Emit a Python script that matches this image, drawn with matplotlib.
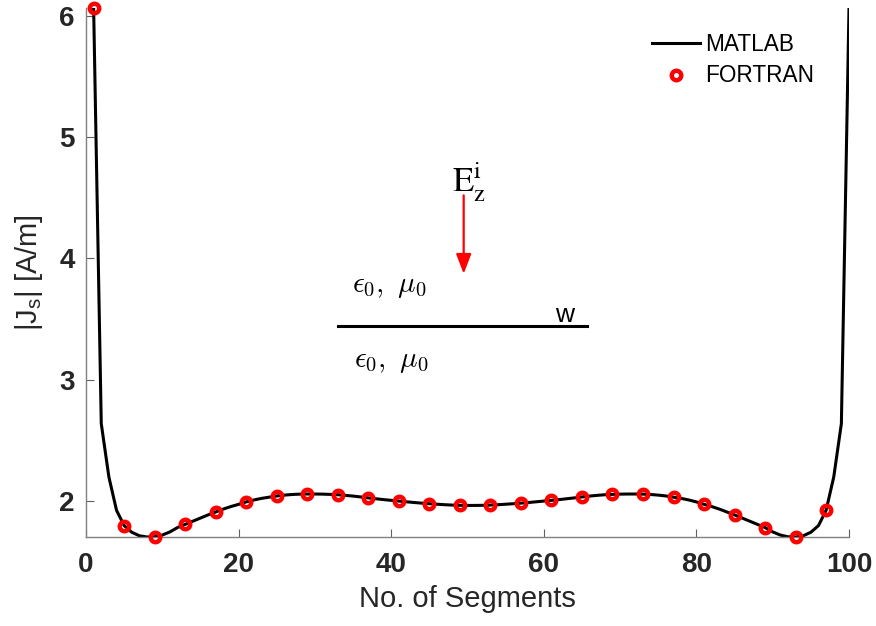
import matplotlib
matplotlib.use("Agg")
import matplotlib.pyplot as plt

plt.rcParams['font.family'] = ['Liberation Sans', 'DejaVu Sans']
plt.rcParams['mathtext.fontset'] = 'custom'
plt.rcParams['mathtext.rm'] = 'Liberation Sans'
plt.rcParams['mathtext.sf'] = 'Liberation Sans'
plt.rcParams['mathtext.it'] = 'Liberation Sans:italic'

# ---- data ----
segments = list(range(1, 101))
matlab_js = [
    6.063, 2.640, 2.200, 1.926, 1.800, 1.745, 1.716, 1.706, 1.708, 1.722,
    1.748, 1.784, 1.810, 1.836, 1.862, 1.888, 1.912, 1.936, 1.957, 1.975,
    1.995, 2.011, 2.024, 2.034, 2.044, 2.051, 2.056, 2.059, 2.060, 2.060,
    2.059, 2.057, 2.054, 2.049, 2.043, 2.036, 2.028, 2.021, 2.014, 2.008,
    2.002, 1.996, 1.990, 1.985, 1.980, 1.976, 1.972, 1.969, 1.967, 1.966,
    1.966, 1.967, 1.969, 1.972, 1.976, 1.980, 1.985, 1.990, 1.996, 2.002,
    2.008, 2.014, 2.021, 2.028, 2.036, 2.043, 2.049, 2.054, 2.057, 2.059,
    2.060, 2.060, 2.059, 2.056, 2.051, 2.044, 2.034, 2.024, 2.011, 1.995,
    1.975, 1.957, 1.936, 1.912, 1.888, 1.862, 1.836, 1.810, 1.784, 1.748,
    1.722, 1.708, 1.706, 1.716, 1.745, 1.800, 1.926, 2.200, 2.640, 6.063,
]
fortran_segments = list(range(1, 98, 4))
fortran_js = [
    6.063, 1.800, 1.708, 1.810, 1.912, 1.995, 2.044, 2.060, 2.054, 2.028,
    2.002, 1.980, 1.967, 1.969, 1.985, 2.008, 2.036, 2.057, 2.059, 2.034,
    1.975, 1.888, 1.784, 1.706, 1.926,
]
xticks = [0, 20, 40, 60, 80, 100]
yticks = [2, 3, 4, 5, 6]

W, H = 876, 626
fig = plt.figure(figsize=(W / 100, H / 100), dpi=100)
ax = fig.add_axes([86 / W, 1 - 537 / H, (849 - 86) / W, (537 - 8) / H])

ax.plot(segments, matlab_js, color='black', lw=2.2, label='MATLAB', zorder=2)
ax.plot(fortran_segments, fortran_js, linestyle='none', marker='o', ms=6.8,
        mfc='none', mec='red', mew=3.2, label='FORTRAN', zorder=3, clip_on=False)

ax.set_xlim(0, 100)
ax.set_ylim(min(matlab_js), max(matlab_js))
ax.set_xticks(xticks)
ax.set_yticks(yticks)

for s in ['top', 'right']:
    ax.spines[s].set_visible(False)
for s in ['left', 'bottom']:
    ax.spines[s].set_color('#808080')
    ax.spines[s].set_linewidth(1.0)

ax.tick_params(direction='in', length=6, width=0.8, color='#606060',
               labelsize=20, labelcolor='#262626')
ax.tick_params(axis='x', pad=11)
ax.tick_params(axis='y', pad=8)
for lbl in ax.get_xticklabels() + ax.get_yticklabels():
    lbl.set_fontweight('bold')

ax.set_xlabel('No. of Segments', fontsize=21, color='#262626', labelpad=5)
ax.set_ylabel(r'|J$_{\mathsf{s}}$| [A/m]', fontsize=21, color='#262626', labelpad=10)

leg = ax.legend(loc='upper left', bbox_to_anchor=(0.742, 0.953), frameon=False,
                fontsize=16.3, handlelength=2.1, handletextpad=0.25,
                labelspacing=0.38, borderpad=0, borderaxespad=0)

# ---- inset sketch annotations ----
ax.plot([33.05, 65.7], [3.44, 3.44], color='black', lw=2.2, clip_on=False)
ax.text(62.7, 3.475, 'w', fontsize=19, ha='center', va='baseline')
ax.text(34.9, 3.72, r'$\epsilon_{\mathsf{0}},\ \mu_{\mathsf{0}}$', fontsize=21,
        ha='left', va='baseline', math_fontfamily='cm')
ax.text(35.1, 3.105, r'$\epsilon_{\mathsf{0}},\ \mu_{\mathsf{0}}$', fontsize=21,
        ha='left', va='baseline', math_fontfamily='cm')
ax.annotate('', xy=(49.5, 3.874), xytext=(49.5, 4.52),
            arrowprops=dict(arrowstyle='-|>,head_length=0.6,head_width=0.23',
                            color='red', lw=1.6, mutation_scale=20,
                            shrinkA=0, shrinkB=0))
ax.text(48.0, 4.546, r'$\mathrm{E}_\mathrm{z}^\mathrm{i}$', fontsize=25,
        ha='left', va='baseline', math_fontfamily='stix')

fig.savefig('out.png', dpi=100)
